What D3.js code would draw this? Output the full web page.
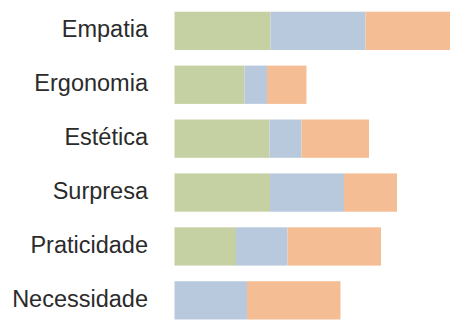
<!DOCTYPE html>
<html><head><meta charset="utf-8">
<script src="https://cdn.jsdelivr.net/npm/d3@7"></script>
<style>html,body{margin:0;padding:0;background:#fff;overflow:hidden}</style>
</head><body>
<svg id="c" width="450" height="320"></svg>
<script>
const categories = ["Empatia","Ergonomia","Estética","Surpresa","Praticidade","Necessidade"];
const seriesNames = ["Verde","Azul","Laranja"];
const green  = [96, 70, 95, 95.5, 61.5, 0];
const blue   = [95, 22.5, 32, 74, 51.5, 72.5];
const orange = [100, 39.5, 67.5, 53, 93.5, 93.5];
const colors = ["#c5d1a3","#b9c9dd","#f5bd94"];

const svg = d3.select("#c");
const x = d3.scaleLinear().domain([0, 275.5]).range([174.5, 450]);
const y = d3.scaleBand().domain(categories).range([11.7, 319.5]).paddingInner(0.29).paddingOuter(0);

const rows = categories.map((c,i)=>({cat:c, Verde:green[i], Azul:blue[i], Laranja:orange[i]}));
const stacked = d3.stack().keys(seriesNames)(rows);

svg.append("g").selectAll("g").data(stacked).join("g")
  .attr("fill",(d,i)=>colors[i])
  .selectAll("rect").data(d=>d).join("rect")
  .attr("x",d=>x(d[0]))
  .attr("y",d=>y(d.data.cat))
  .attr("width",d=>x(d[1])-x(d[0]))
  .attr("height",y.bandwidth());

const axis = d3.axisLeft(y).tickSize(0).tickPadding(0);
const g = svg.append("g").attr("transform","translate(148,0)").call(axis);
g.select(".domain").remove();
g.selectAll("text")
  .attr("font-family","'Liberation Sans', Arial, sans-serif")
  .attr("font-size","23.5px")
  .attr("fill","#2b2b2b")
  .attr("dy","0.32em")
  .attr("transform","translate(0,-1)");
</script>
</body></html>
